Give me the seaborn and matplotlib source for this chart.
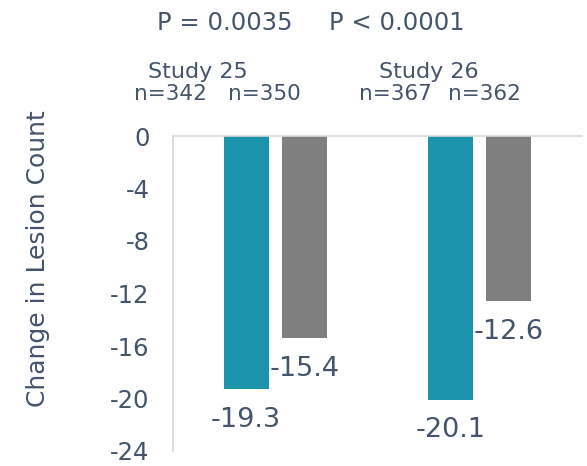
import matplotlib
matplotlib.use("Agg")
import matplotlib.pyplot as plt
import seaborn as sns
import pandas as pd

studies = ["Study 25", "Study 26"]
treatments = ["Active", "Vehicle"]
active_values = [-19.3, -20.1]
vehicle_values = [-15.4, -12.6]
n_labels = [["n=342", "n=350"], ["n=367", "n=362"]]
p_labels = ["P = 0.0035", "P < 0.0001"]
yticks = [0, -4, -8, -12, -16, -20, -24]

rows = []
for i, s in enumerate(studies):
    rows.append({"study": s, "treatment": treatments[0], "value": active_values[i]})
    rows.append({"study": s, "treatment": treatments[1], "value": vehicle_values[i]})
df = pd.DataFrame(rows)

sns.set_theme(style="white")
plt.rcParams["font.family"] = ["DejaVu Sans"]
TXT = "#44546a"
W, H = 587, 466

fig = plt.figure(figsize=(W / 100, H / 100), dpi=100)
ax = fig.add_axes([173 / W, (H - 451) / H, (582 - 173) / W, (451 - 136) / H])

sns.barplot(data=df, x="study", y="value", hue="treatment", order=studies,
            hue_order=treatments, palette=["#1a93ab", "#7f7f7f"],
            width=0.57, gap=0.23, legend=False, ax=ax, saturation=1,
            edgecolor="none", linewidth=0)

ax.set_ylim(-24, 0)
ax.set_xlim(-0.5, 1.5)
ax.set_yticks(yticks)
ax.set_yticklabels([str(t) for t in yticks])
ax.tick_params(axis="y", length=0, pad=17, labelsize=17.5, labelcolor=TXT)
ax.set_xticks([])
ax.set_xlabel("")
ax.set_ylabel("")
for side in ["bottom", "right"]:
    ax.spines[side].set_visible(False)
for side in ["left", "top"]:
    ax.spines[side].set_visible(True)
    ax.spines[side].set_color("#d9d9d9")
    ax.spines[side].set_linewidth(1.2)

for p in ax.patches:
    h = p.get_height()
    if h == 0:
        continue
    xc = p.get_x() + p.get_width() / 2
    ax.annotate(f"{h:.1f}", xy=(xc, h), xytext=(0, -22), textcoords="offset points",
                ha="center", va="center", fontsize=19.5, color=TXT,
                annotation_clip=False)

def ftext(x, y, s, size):
    fig.text(x / W, 1 - y / H, s, ha="center", va="center", fontsize=size,
             color=TXT)

ftext(224.5, 23, p_labels[0], 17.5)
ftext(397, 23, p_labels[1], 17.5)
ftext(198, 72, studies[0], 16)
ftext(429, 72, studies[1], 16)
ftext(170, 94, n_labels[0][0], 15.5)
ftext(264.5, 94, n_labels[0][1], 15.5)
ftext(395, 94, n_labels[1][0], 15.5)
ftext(484, 94, n_labels[1][1], 15.5)

fig.text(38 / W, 1 - 259 / H, "Change in Lesion Count", rotation=90,
         ha="center", va="center", fontsize=18, color=TXT)

fig.savefig("out.png", dpi=100)
